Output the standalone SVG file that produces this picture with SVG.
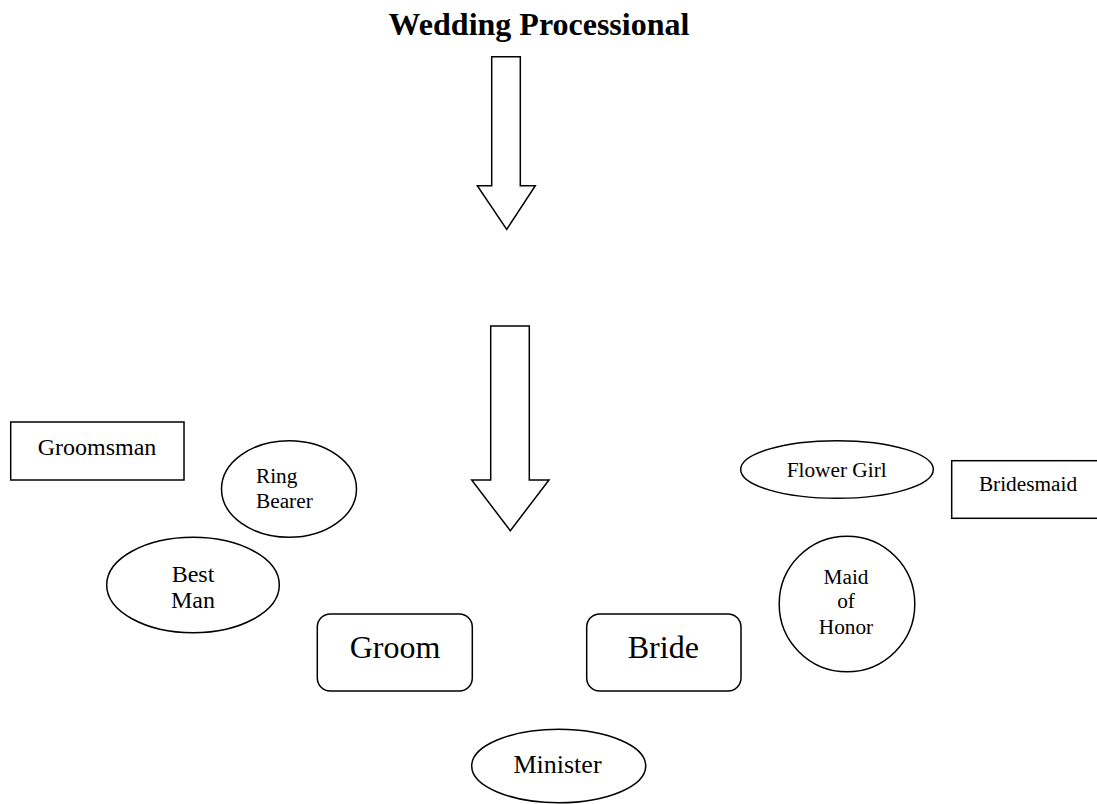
<svg xmlns="http://www.w3.org/2000/svg" width="1097" height="804" viewBox="0 0 1097 804">
<style>
.s{fill:#fff;stroke:#000;stroke-width:1.5}
.t{font-family:"Liberation Serif","Times New Roman",serif;fill:#000}
.c{text-anchor:middle}
</style>
<rect width="1097" height="804" fill="#fff"/>
<g id="title"><text class="t c" x="539" y="35" font-size="32" font-weight="bold">Wedding Processional</text></g>
<g id="connectors">
<polygon class="s" points="491.7,56.7 520.3,56.7 520.3,185.7 535.3,185.7 506.7,229.3 477.3,185.7 491.7,185.7"/>
<polygon class="s" points="490.7,326 529.3,326 529.3,480 549,480 510.3,530.7 471.7,480 490.7,480"/>
</g>
<g id="groomsman"><rect class="s" x="10.7" y="422" width="173.3" height="58"/><text class="t c" x="97" y="455" font-size="24">Groomsman</text></g>
<g id="ring-bearer"><ellipse class="s" cx="289" cy="489" rx="67.5" ry="48.3"/><text class="t" x="256" y="483" font-size="21.3">Ring</text><text class="t" x="256" y="508" font-size="21.3">Bearer</text></g>
<g id="best-man"><ellipse class="s" cx="193" cy="585" rx="86.3" ry="47.7"/><text class="t c" x="193" y="581.7" font-size="24">Best</text><text class="t c" x="193" y="608.3" font-size="24">Man</text></g>
<g id="flower-girl"><ellipse class="s" cx="837" cy="469.5" rx="96.3" ry="28.8"/><text class="t c" x="836.7" y="476.7" font-size="21.3">Flower Girl</text></g>
<g id="bridesmaid"><rect class="s" x="951.7" y="460.7" width="160" height="57.6"/><text class="t c" x="1028" y="490.7" font-size="21.3">Bridesmaid</text></g>
<g id="maid-of-honor"><circle class="s" cx="847" cy="604" r="67.8"/><text class="t c" x="846" y="584" font-size="21.3">Maid</text><text class="t c" x="846" y="608.3" font-size="21.3">of</text><text class="t c" x="846" y="634" font-size="21.3">Honor</text></g>
<g id="groom"><rect class="s" x="317.3" y="614" width="155" height="77" rx="13"/><text class="t c" x="395" y="658.3" font-size="32">Groom</text></g>
<g id="bride"><rect class="s" x="586.7" y="614" width="154.3" height="77" rx="13"/><text class="t c" x="663.3" y="658.3" font-size="32">Bride</text></g>
<g id="minister"><ellipse class="s" cx="558.7" cy="766" rx="87" ry="36.7"/><text class="t c" x="557.5" y="773.3" font-size="26">Minister</text></g>
</svg>
